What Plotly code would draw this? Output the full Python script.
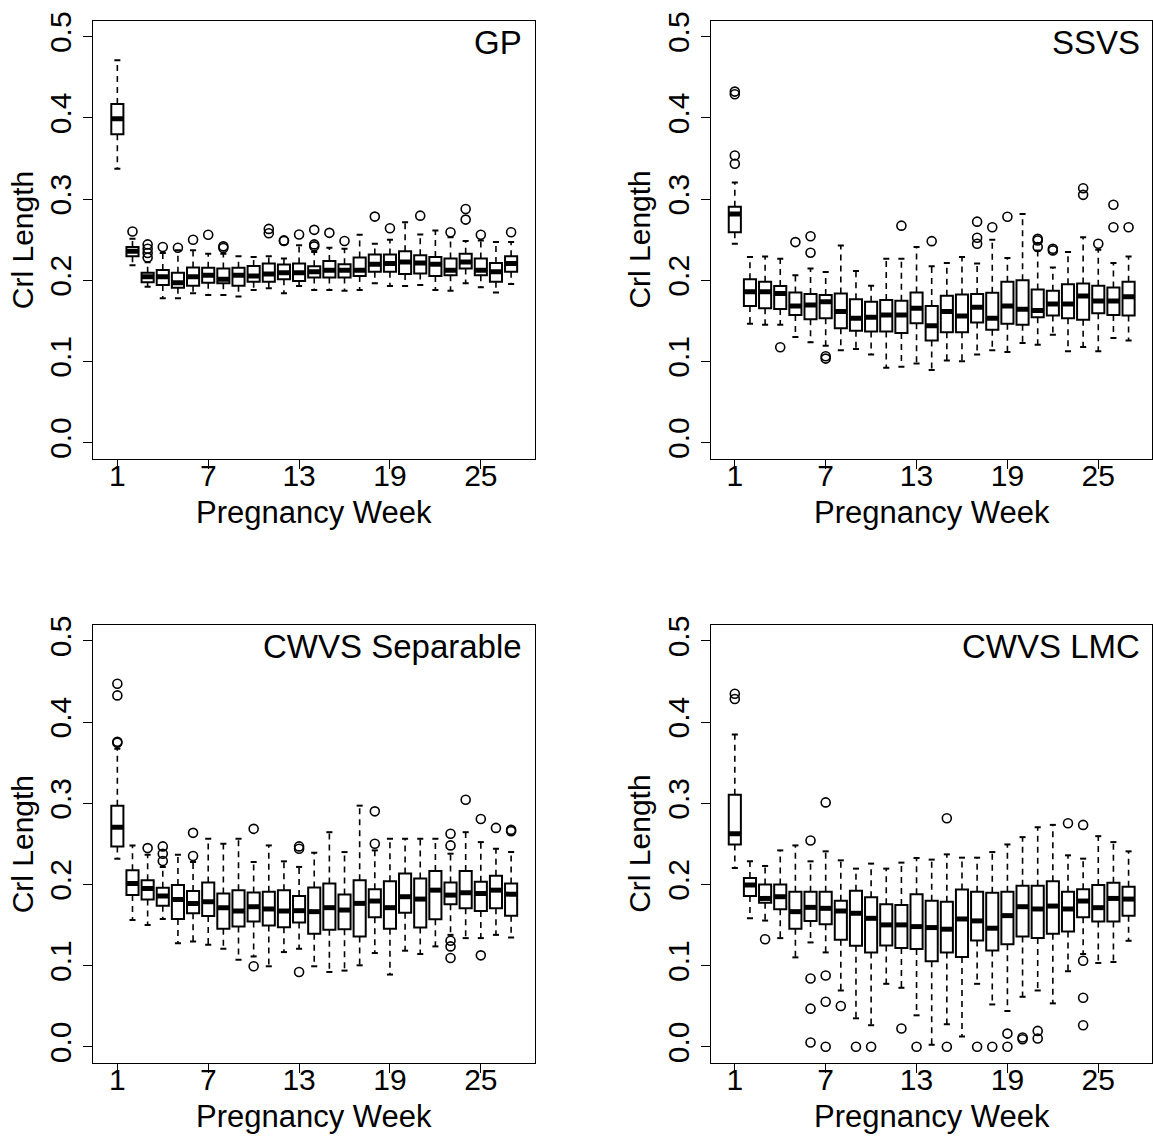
import plotly.graph_objects as go

# ---------------- data ----------------
weeks = list(range(1, 28))
x_tick_vals = [1, 7, 13, 19, 25]
y_tick_vals = [0.0, 0.1, 0.2, 0.3, 0.4, 0.5]
y_tick_text = ["0.0", "0.1", "0.2", "0.3", "0.4", "0.5"]
panel_titles = ["GP", "SSVS", "CWVS Separable", "CWVS LMC"]
x_label = "Pregnancy Week"
y_label = "Crl Length"

# GP
gp_q1 = [.380, .2295, .1974, .1941, .1909, .1933, .1970, .1962, .1933, .1982, .1982, .2011, .1990, .2035,
         .2035, .2035, .2051, .2104, .2104, .2076, .2084, .2051, .2063, .2145, .2063, .1982, .2104]
gp_med = [.399, .2357, .2043, .2043, .1970, .2043, .2063, .2011, .2063, .2051, .2076, .2092, .2092, .2104,
          .2124, .2124, .2124, .2198, .2206, .2226, .2214, .2198, .2124, .2226, .2124, .2104, .2206]
gp_q3 = [.417, .2409, .2092, .2125, .2092, .2157, .2153, .2145, .2153, .2177, .2206, .2194, .2206, .2173,
         .2238, .2198, .2279, .2316, .2316, .2356, .2308, .2287, .2267, .2328, .2267, .2214, .2296]
gp_lo = [.3375, .2186, .1921, .1778, .1778, .1840, .1819, .1819, .1799, .1880, .1901, .1840, .1929, .1880,
         .1880, .1872, .1880, .1962, .1929, .1929, .1941, .1880, .1872, .1962, .1913, .1848, .1954]
gp_hi = [.471, .2511, .2222, .2336, .2369, .2369, .2328, .2328, .2295, .2287, .2295, .2267, .2430, .2348,
         .2401, .2389, .2560, .2450, .2499, .2715, .2564, .2613, .2531, .2483, .2491, .2470, .2470]
gp_out_w = [2, 3, 3, 3, 3, 4, 5, 6, 7, 8, 8, 11, 11, 12, 12, 13, 14, 14, 14, 15, 16, 18, 19, 21, 23, 24, 24, 25, 27]
gp_out_v = [.260, .2442, .2389, .2336, .2279, .2409, .2401, .2499, .2560, .2418, .2397, .2633, .2580, .2491,
            .2483, .2564, .2621, .2442, .2418, .2584, .2483, .2784, .2641, .2796, .2592, .2877, .2747, .2560, .2592]

# SSVS
ssvs_q1 = [.2592, .1683, .1655, .1646, .1573, .1520, .1532, .1410, .1377, .1369, .1369, .1349, .1471, .1259,
           .1361, .1361, .1479, .1390, .1463, .1451, .1545, .1565, .1532, .1512, .1593, .1573, .1565]
ssvs_med = [.2816, .1858, .1858, .1838, .1683, .1695, .1736, .1614, .1532, .1545, .1573, .1573, .1655, .1439,
            .1614, .1561, .1667, .1532, .1683, .1642, .1626, .1708, .1708, .1805, .1744, .1744, .1797]
ssvs_q3 = [.2906, .2013, .1981, .1928, .1850, .1830, .1818, .1838, .1765, .1736, .1756, .1748, .1850, .1683,
           .1809, .1826, .1830, .1846, .1981, .2001, .1887, .1871, .1952, .1960, .1932, .1911, .1981]
ssvs_lo = [.2449, .1463, .1451, .1451, .1300, .1235, .1194, .1137, .1153, .1084, .0921, .0933, .0974, .0893,
           .1011, .1003, .1084, .1137, .1117, .1227, .1206, .1329, .1125, .1178, .1125, .1288, .1259]
ssvs_hi = [.3203, .2286, .2294, .2266, .2062, .2144, .2103, .2429, .2115, .1932, .2266, .2266, .2409, .2172,
           .2213, .2286, .2205, .2498, .2274, .2816, .2368, .2156, .2347, .2531, .2376, .2213, .2294]
ssvs_out_w = [1, 1, 1, 1, 4, 5, 6, 6, 7, 7, 12, 14, 17, 17, 17, 18, 19, 21, 21, 21, 22, 22, 24, 24, 25, 26, 26, 27]
ssvs_out_v = [.4324, .4291, .3537, .3435, .1174, .2470, .2543, .2339, .1064, .1035, .2673, .2482, .2722, .2523,
              .2449, .2653, .2783, .2510, .2490, .2409, .2388, .2368, .3134, .3052, .2449, .2930, .2653, .2653]

# CWVS Separable
sep_q1 = [.2469, .1869, .1816, .1738, .1575, .1645, .1612, .1453, .1481, .1543, .1494, .1473, .1530, .1392,
          .1441, .1449, .1359, .1596, .1453, .1653, .1469, .1571, .1755, .1706, .1673, .1706, .1616]
sep_med = [.2705, .2012, .1951, .1857, .1816, .1767, .1787, .1714, .1673, .1726, .1698, .1673, .1677, .1665,
           .1714, .1685, .1767, .1796, .1714, .1849, .1820, .1930, .1869, .1898, .1889, .1930, .1881]
sep_q3 = [.2971, .2175, .2053, .1959, .1992, .1918, .2024, .1889, .1930, .1902, .1910, .1930, .1857, .1963,
          .2012, .1877, .2053, .1942, .2040, .2134, .2073, .2167, .2024, .2167, .2032, .2106, .2012]
sep_lo = [.2318, .1563, .1502, .1575, .1277, .1298, .1257, .1208, .1073, .1114, .0992, .1167, .1208, .0992,
          .0922, .0939, .1004, .1155, .0890, .1184, .1143, .1237, .1379, .1339, .1339, .1379, .1347]
sep_hi = [.3672, .2481, .2367, .2216, .2367, .2277, .2563, .2501, .2563, .2277, .2481, .2285, .2216, .2391,
          .2644, .2399, .2971, .2420, .2563, .2563, .2563, .2563, .2379, .2644, .2522, .2440, .2399]
sep_out_w = [1, 1, 1, 1, 3, 4, 4, 4, 6, 6, 10, 10, 13, 13, 13, 18, 18, 23, 23, 23, 23, 23, 24, 25, 25, 26, 27, 27]
sep_out_v = [.4472, .4329, .3758, .3746, .2448, .2469, .2379, .2289, .2636, .2350, .2685, .0992, .2469, .2440,
             .0922, .2901, .2501, .2624, .2481, .1306, .1237, .1094, .3044, .2807, .1127, .2697, .2673, .2656]

# CWVS LMC
lmc_q1 = [.2493, .1857, .1775, .1694, .1453, .1551, .1510, .1318, .1245, .1163, .1249, .1216, .1204, .1053,
          .1163, .1106, .1310, .1188, .1265, .1359, .1339, .1392, .1420, .1596, .1543, .1543, .1616]
lmc_med = [.2624, .1992, .1828, .1849, .1665, .1718, .1706, .1673, .1645, .1583, .1502, .1502, .1481, .1469,
           .1449, .1575, .1551, .1461, .1616, .1726, .1698, .1734, .1698, .1796, .1714, .1828, .1820]
lmc_q3 = [.3105, .2081, .2000, .2000, .1910, .1910, .1910, .1800, .1922, .1841, .1755, .1747, .1881, .1800,
          .1787, .1938, .1910, .1898, .1910, .1983, .1983, .2040, .1910, .1942, .1992, .2020, .1971]
lmc_lo = [.2204, .1583, .1555, .1339, .1102, .1286, .1163, .0694, .0351, .0266, .0776, .0727, .0388, .0025,
          .0278, .0127, .0776, .0522, .0441, .0616, .0694, .0535, .0931, .1143, .1033, .1045, .1306]
lmc_hi = [.3848, .2285, .2228, .2420, .2481, .2285, .2408, .2297, .2195, .2257, .2195, .2269, .2326, .2306,
          .2371, .2330, .2330, .2399, .2493, .2583, .2705, .2734, .2359, .2318, .2595, .2522, .2408]
lmc_out_w = [1, 1, 3, 6, 6, 6, 6, 7, 7, 7, 7, 8, 9, 10, 12, 13, 15, 15, 17, 18, 19, 19, 20, 20, 21, 21,
             23, 24, 24, 24, 24]
lmc_out_v = [.4350, .4284, .1326, .2542, .0841, .0470, .0053, .3011, .0878, .0555, .0000, .0502, .0000, .0000,
             .0225, .0000, .2816, .0000, .0000, .0000, .0163, .0000, .0114, .0094, .0196, .0102,
             .2754, .2734, .1061, .0604, .0266]

panels = [
    (gp_q1, gp_med, gp_q3, gp_lo, gp_hi, gp_out_w, gp_out_v),
    (ssvs_q1, ssvs_med, ssvs_q3, ssvs_lo, ssvs_hi, ssvs_out_w, ssvs_out_v),
    (sep_q1, sep_med, sep_q3, sep_lo, sep_hi, sep_out_w, sep_out_v),
    (lmc_q1, lmc_med, lmc_q3, lmc_lo, lmc_hi, lmc_out_w, lmc_out_v),
]

# ---------------- layout geometry (pixels) ----------------
W, H = 1153, 1144
FONT = "Liberation Sans, Arial, Helvetica, sans-serif"
BOXW = 0.8
CAPW = 0.4
XR = (-0.58, 28.58)
YR = (-0.02, 0.52)
frames_x = [(93.5, 535.5), (711.5, 1153.5)]
frames_y = [(11.6, 453.4), (620.6, 1062.4)]
px_per_unit = (frames_x[0][1] - frames_x[0][0]) / (XR[1] - XR[0])

fig = go.Figure()
layout_axes = {}
annotations = []

for i, (q1, med, q3, lo, hi, ow, ov) in enumerate(panels):
    col, row = i % 2, i // 2
    xa = "x" if i == 0 else f"x{i+1}"
    ya = "y" if i == 0 else f"y{i+1}"
    fx0, fx1 = frames_x[col]
    fy0, fy1 = frames_y[row]

    # whiskers (dashed)
    wx, wy = [], []
    for w, a, b, c, d in zip(weeks, q1, q3, lo, hi):
        wx += [w, w, None, w, w, None]
        wy += [b, d, None, a, c, None]
    fig.add_trace(go.Scatter(x=wx, y=wy, mode="lines", xaxis=xa, yaxis=ya,
                             line=dict(color="black", width=1.6, dash="6px,5px"),
                             hoverinfo="skip", showlegend=False))
    # staples
    sx, sy = [], []
    for w, c, d in zip(weeks, lo, hi):
        sx += [w - CAPW / 2, w + CAPW / 2, None, w - CAPW / 2, w + CAPW / 2, None]
        sy += [d, d, None, c, c, None]
    fig.add_trace(go.Scatter(x=sx, y=sy, mode="lines", xaxis=xa, yaxis=ya,
                             line=dict(color="black", width=2),
                             hoverinfo="skip", showlegend=False))
    # boxes
    fig.add_trace(go.Box(x=weeks, q1=q1, median=med, q3=q3, lowerfence=q1, upperfence=q3,
                         orientation="v", width=BOXW, whiskerwidth=0,
                         fillcolor="white", line=dict(color="black", width=2),
                         boxpoints=False, xaxis=xa, yaxis=ya, showlegend=False,
                         hoverinfo="skip"))
    # medians (thick)
    mx, my = [], []
    for w, m in zip(weeks, med):
        mx += [w - BOXW / 2, w + BOXW / 2, None]
        my += [m, m, None]
    fig.add_trace(go.Scatter(x=mx, y=my, mode="lines", xaxis=xa, yaxis=ya,
                             line=dict(color="black", width=5),
                             hoverinfo="skip", showlegend=False))
    # outliers
    fig.add_trace(go.Scatter(x=ow, y=ov, mode="markers", xaxis=xa, yaxis=ya,
                             marker=dict(symbol="circle-open", size=9, color="black",
                                         line=dict(width=1.6, color="black")),
                             hoverinfo="skip", showlegend=False))

    dx1 = min(fx1 / W, 1.0)
    xr_end = XR[0] + (min(fx1, W) - fx0) / px_per_unit
    axis_common = dict(showgrid=False, zeroline=False, showline=True, mirror=True,
                       linecolor="black", linewidth=1, ticks="outside", ticklen=9,
                       tickwidth=1, tickcolor="black",
                       tickfont=dict(family=FONT, size=30, color="black"))
    layout_axes["xaxis" if i == 0 else f"xaxis{i+1}"] = dict(
        domain=[fx0 / W, dx1], range=[XR[0], xr_end], anchor=ya,
        tickmode="array", tickvals=x_tick_vals, ticklabelstandoff=-19, **axis_common)
    layout_axes["yaxis" if i == 0 else f"yaxis{i+1}"] = dict(
        domain=[1 - fy1 / H, 1 - fy0 / H], range=list(YR), anchor=xa,
        tickmode="array", tickvals=y_tick_vals, ticktext=y_tick_text, tickangle=-90,
        **axis_common)

    # panel title
    annotations.append(dict(text=panel_titles[i], xref="paper", yref="paper",
                            x=(fx1 - 11) / W, y=1 - (fy0 + 22) / H,
                            xanchor="right", yanchor="middle", showarrow=False,
                            font=dict(family=FONT, size=33, color="black")))
    # x label
    annotations.append(dict(text=x_label, xref="paper", yref="paper",
                            x=((fx0 + fx1) / 2) / W, y=1 - (fy1 + 54) / H,
                            xanchor="center", yanchor="middle", showarrow=False,
                            font=dict(family=FONT, size=31, color="black")))
    # y label
    annotations.append(dict(text=y_label, xref="paper", yref="paper",
                            x=(fx0 - 71) / W, y=1 - ((fy0 + fy1) / 2) / H,
                            xanchor="center", yanchor="middle", showarrow=False, textangle=-90,
                            font=dict(family=FONT, size=30, color="black")))

fig.update_layout(width=W, height=H, margin=dict(l=0, r=0, t=0, b=0),
                  paper_bgcolor="white", plot_bgcolor="white", showlegend=False,
                  font=dict(family=FONT, color="black"),
                  annotations=annotations, **layout_axes)

fig.write_html("out.html")
